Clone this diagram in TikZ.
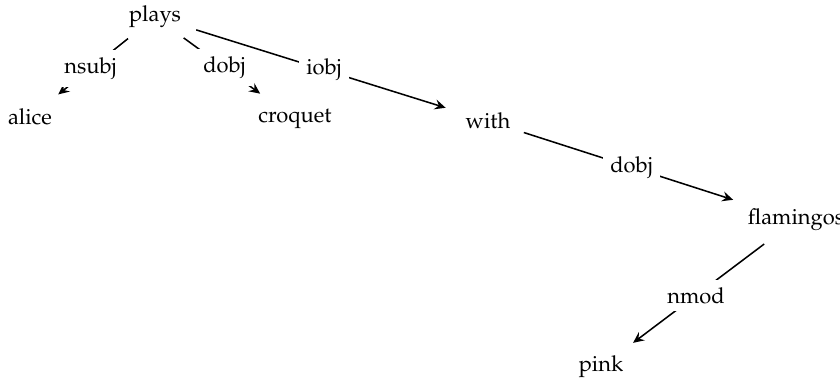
\documentclass[tikz,border=0pt]{standalone}
\usepackage[T1]{fontenc}
\usepackage{mathpazo}
\usetikzlibrary{shapes.geometric,arrows.meta}
\tikzset{
  x=0.4566pt, y=-0.4566pt,
  word/.style={ellipse, inner sep=3.3pt, font=\fontsize{10}{12}\selectfont},
  lbl/.style={fill=white, inner sep=3.3pt, font=\fontsize{10}{12}\selectfont},
  dep/.style={line width=0.7pt, -{Stealth[length=5pt,width=4.6pt,inset=1.8pt]}, shorten >=3pt},
}
\begin{document}
\begin{tikzpicture}
\useasboundingbox (0,0) rectangle (840,385);
\node[word] (plays) at (155,17) {plays};
\node[word] (alice) at (30,117) {alice};
\node[word] (croquet) at (295,119) {croquet};
\node[word] (with) at (488,121) {with};
\node[word] (flamingos) at (796,220) {flamingos};
\node[word] (pink) at (601,367) {pink};
\draw[dep] (plays) -- node[lbl] (l1) {nsubj} (alice);
\draw[dep] (plays) -- node[lbl] (l2) {dobj} (croquet);
\draw[dep] (plays) -- node[lbl] (l3) {iobj} (with);
\draw[dep] (with) -- node[lbl] (l4) {dobj} (flamingos);
\draw[dep] (flamingos) -- node[lbl] (l5) {nmod} (pink);
\end{tikzpicture}
\end{document}
